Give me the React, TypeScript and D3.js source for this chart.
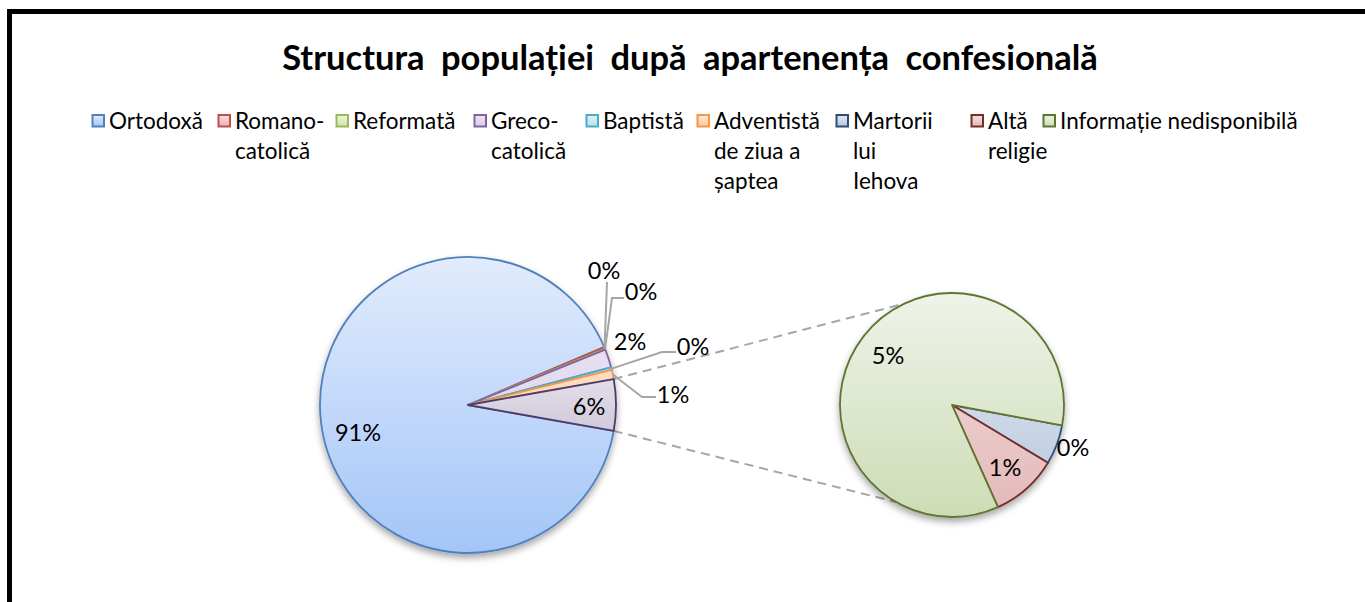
import { useMemo } from 'react';
import * as d3 from 'd3';

// legend / series names
const categories = [
  'Ortodoxă',
  'Romano-catolică',
  'Reformată',
  'Greco-catolică',
  'Baptistă',
  'Adventistă de ziua a șaptea',
  'Martorii lui Iehova',
  'Altă religie',
  'Informație nedisponibilă',
];
const legendLines = [
  ['Ortodoxă'],
  ['Romano-', 'catolică'],
  ['Reformată'],
  ['Greco-', 'catolică'],
  ['Baptistă'],
  ['Adventistă', 'de ziua a', 'șaptea'],
  ['Martorii', 'lui', 'Iehova'],
  ['Altă', 'religie'],
  ['Informație nedisponibilă'],
];
// share of population, %
const values = [90.8, 0.2, 0.1, 2.0, 0.3, 1.0, 0.32, 0.54, 4.74];
// last N categories go into the secondary pie
const secondaryCount = 3;

const strokeColors = ['#4f81bd', '#c0504d', '#9bbb59', '#8064a2', '#4bacc6', '#f79646', '#2c4d75', '#772c2a', '#5f7530'];
const fillTop = ['#e1ecfc', '#f6dede', '#eef5e3', '#ece6f4', '#e0f1f7', '#fde9d9', '#e4e9f1', '#f3e0e0', '#eff3e9'];
const fillBottom = ['#a4c5f8', '#e5b3b2', '#cfe2b0', '#d9cde8', '#b9e0ec', '#fbc89e', '#b8c7dd', '#e3b8b8', '#cddcb5'];
const otherStroke = '#4e3b6b';
const otherTop = '#e4e0ea';
const otherBottom = '#cfc8d8';

const width = 1365;
const height = 602;

export default function App() {
  const c1 = { x: 468, y: 405, r: 148 };
  const c2 = { x: 952, y: 405, r: 112 };

  const mainVals = values.slice(0, values.length - secondaryCount);
  const secVals = values.slice(values.length - secondaryCount);
  const otherSum = d3.sum(secVals);
  const total = d3.sum(values);
  const mainData = [...mainVals, otherSum];

  const half = (otherSum / total) * Math.PI;
  const mainArcs = useMemo(
    () =>
      d3
        .pie<number>()
        .sort(null)
        .value((d) => d)
        .startAngle(Math.PI / 2 + half)
        .endAngle(Math.PI / 2 + half + 2 * Math.PI)(mainData),
    [half]
  );
  const secStart = Math.PI / 2 + (10.5 * Math.PI) / 180;
  const secArcs = d3
    .pie<number>()
    .sort(null)
    .value((d) => d)
    .startAngle(secStart)
    .endAngle(secStart + 2 * Math.PI)(secVals);

  const arc1 = d3.arc<d3.PieArcDatum<number>>().innerRadius(0).outerRadius(c1.r);
  const arc2 = d3.arc<d3.PieArcDatum<number>>().innerRadius(0).outerRadius(c2.r);

  const pct = (v: number) => `${Math.round((v / total) * 100)}%`;
  // polar (d3 angle: 0 = up, clockwise) -> xy
  const pt = (c: { x: number; y: number }, a: number, r: number) => [c.x + r * Math.sin(a), c.y - r * Math.cos(a)];

  // label centres relative to the pie centre
  const mainLabelOff = [[-110, 28], [136, -134], [173, -113], [162, -63], [225, -58], [205, -10], [121, 2]];
  const secLabelOff = [[121, 43], [53, 63], [-64, -49]];
  // leader elbows relative to label centre (null = no leader)
  const leaders: (number[][] | null)[] = [
    null,
    [[3, 11]],
    [[-29, 6], [-17, 6]],
    null,
    [[-31, 5], [-17, 5]],
    [[-31, 2], [-17, 2]],
    null,
  ];

  // connector lines from the "other" slice to the secondary pie
  const otherArc = mainArcs[mainArcs.length - 1];
  const p1a = pt(c1, otherArc.startAngle, c1.r);
  const p1b = pt(c1, otherArc.endAngle, c1.r);
  const p2a = pt(c2, (-25 * Math.PI) / 180, c2.r);
  const p2b = pt(c2, (-150 * Math.PI) / 180 + 2 * Math.PI, c2.r);

  const legendX = [92, 218, 336, 474, 586, 697, 836, 971, 1043];
  const font = 'Lato, "Open Sans", sans-serif';

  return (
    <svg width={width} height={height} style={{ position: 'absolute', left: 0, top: 0, background: '#fff' }} fontFamily={font}>
      <defs>
        {categories.map((_, i) => {
          const sec = i >= values.length - secondaryCount;
          const c = sec ? c2 : c1;
          return (
            <linearGradient key={i} id={`g${i}`} gradientUnits="userSpaceOnUse" x1={0} y1={-c.r} x2={0} y2={c.r}>
              <stop offset="0" stopColor={fillTop[i]} />
              <stop offset="1" stopColor={fillBottom[i]} />
            </linearGradient>
          );
        })}
        <linearGradient id="gOther" gradientUnits="userSpaceOnUse" x1={0} y1={-c1.r * 0.2} x2={0} y2={c1.r * 0.2}>
          <stop offset="0" stopColor={otherTop} />
          <stop offset="1" stopColor={otherBottom} />
        </linearGradient>
        {categories.map((_, i) => (
          <linearGradient key={`l${i}`} id={`lg${i}`} x1={0} y1={0} x2={0} y2={1}>
            <stop offset="0" stopColor={fillTop[i]} />
            <stop offset="1" stopColor={fillBottom[i]} />
          </linearGradient>
        ))}
        <filter id="shadow" x="-20%" y="-20%" width="140%" height="150%">
          <feDropShadow dx="0" dy="4" stdDeviation="3.5" floodColor="#000" floodOpacity="0.35" />
        </filter>
      </defs>

      {/* frame */}
      <rect x={9.5} y={11.5} width={width + 20} height={height + 20} fill="none" stroke="#000" strokeWidth={5} />

      {/* title */}
      <text x={690} y={70} textAnchor="middle" fontSize={34.5} fontWeight="bold" wordSpacing={8} fill="#000">
        Structura populației după apartenența confesională
      </text>

      {/* legend */}
      {legendLines.map((lines, i) => (
        <g key={i} transform={`translate(${legendX[i]},0)`}>
          <rect x={0.5} y={115} width={11.5} height={11.5} fill={`url(#lg${i})`} stroke={strokeColors[i]} strokeWidth={2} />
          {lines.map((t, j) => (
            <text key={j} x={17} y={129 + j * 30} fontSize={22.5} fill="#000">
              {t}
            </text>
          ))}
        </g>
      ))}

      {/* connectors */}
      <g stroke="#a6a6a6" strokeWidth={2} strokeDasharray="9,6" fill="none">
        <line x1={p1a[0]} y1={p1a[1]} x2={p2a[0]} y2={p2a[1]} />
        <line x1={p1b[0]} y1={p1b[1]} x2={p2b[0]} y2={p2b[1]} />
      </g>

      {/* main pie */}
      <g filter="url(#shadow)">
        <g transform={`translate(${c1.x},${c1.y})`}>
          {mainArcs.map((a, i) => {
            const isOther = i === mainArcs.length - 1;
            return (
              <path
                key={i}
                d={arc1(a) ?? ''}
                fill={isOther ? 'url(#gOther)' : `url(#g${i})`}
                stroke={isOther ? otherStroke : strokeColors[i]}
                strokeWidth={1.8}
                strokeLinejoin="round"
              />
            );
          })}
        </g>
      </g>

      {/* secondary pie */}
      <g filter="url(#shadow)">
        <g transform={`translate(${c2.x},${c2.y})`}>
          {secArcs.map((a, i) => {
            const k = values.length - secondaryCount + i;
            return <path key={i} d={arc2(a) ?? ''} fill={`url(#g${k})`} stroke={strokeColors[k]} strokeWidth={1.8} strokeLinejoin="round" />;
          })}
        </g>
      </g>

      {/* leader lines */}
      <g stroke="#a6a6a6" strokeWidth={2} fill="none">
        {mainArcs.map((a, i) => {
          const l = leaders[i];
          if (!l) return null;
          const mid = (a.startAngle + a.endAngle) / 2;
          const s = pt(c1, mid, c1.r);
          const lx = c1.x + mainLabelOff[i][0];
          const ly = c1.y + mainLabelOff[i][1];
          const pts = [s, ...l.map((e) => [lx + e[0], ly + e[1]])];
          return <path key={i} d={d3.line()(pts as [number, number][]) ?? ''} />;
        })}
      </g>

      {/* data labels */}
      <g fontSize={23.5} fill="#000" textAnchor="middle">
        {mainArcs.map((a, i) => (
          <text key={i} x={c1.x + mainLabelOff[i][0]} y={c1.y + mainLabelOff[i][1]} dy="0.35em">
            {pct(a.value)}
          </text>
        ))}
        {secArcs.map((a, i) => (
          <text key={`s${i}`} x={c2.x + secLabelOff[i][0]} y={c2.y + secLabelOff[i][1]} dy="0.35em">
            {pct(a.value)}
          </text>
        ))}
      </g>
    </svg>
  );
}
